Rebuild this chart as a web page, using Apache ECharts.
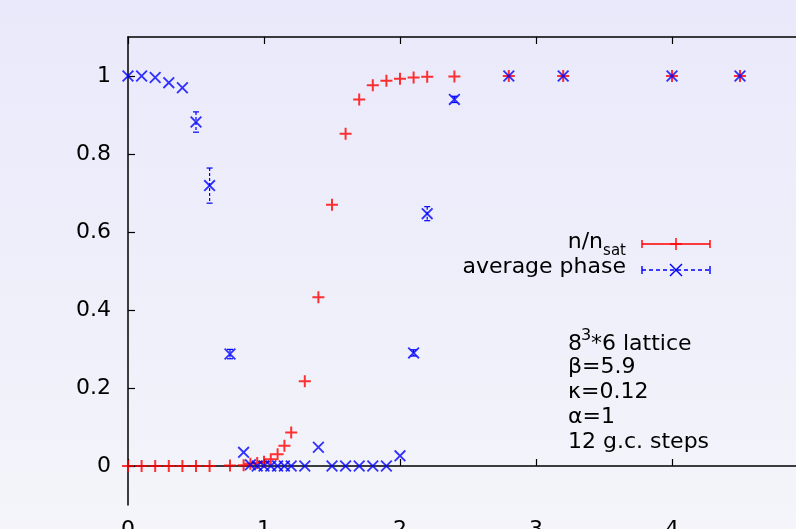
<!DOCTYPE html>
<html>
<head>
<meta charset="utf-8">
<script src="https://cdn.jsdelivr.net/npm/echarts@6/dist/echarts.min.js"></script>
<style>
  html, body { margin: 0; padding: 0; }
  #chart { width: 796px; height: 529px; }
</style>
</head>
<body>
<div id="chart"></div>
<script>
// values
const xValues = [0, 0.1, 0.2, 0.3, 0.4, 0.5, 0.6, 0.75, 0.85, 0.9, 0.95, 1.0, 1.05, 1.1, 1.15, 1.2,
  1.3, 1.4, 1.5, 1.6, 1.7, 1.8, 1.9, 2.0, 2.1, 2.2, 2.4, 2.8, 3.2, 4.0, 4.5];
const nSat = [0, 0, 0, 0, 0, 0, 0, 0.001, 0.002, 0.006, 0.008, 0.011, 0.017, 0.03, 0.052, 0.086,
  0.217, 0.433, 0.67, 0.852, 0.94, 0.976, 0.988, 0.993, 0.996, 0.998, 0.999, 1, 1, 1, 1];
const avgPhase = [1, 1, 0.996, 0.983, 0.97, 0.882, 0.719, 0.287, 0.035, 0.003, 0, 0, 0, 0, 0, 0,
  0, 0.048, 0, 0, 0, 0, 0, 0.026, 0.29, 0.647, 0.94, 1, 1, 1, 1];
const avgPhaseErr = [0, 0, 0, 0.004, 0.004, 0.026, 0.045, 0.012, 0.004, 0, 0, 0, 0, 0, 0, 0,
  0, 0.004, 0, 0, 0, 0, 0, 0.004, 0.008, 0.018, 0.008, 0, 0, 0, 0];
const yTicks = [0, 0.2, 0.4, 0.6, 0.8, 1];
const infoLines = ['\u03b2=5.9', '\u03ba=0.12', '\u03b1=1', '12 g.c. steps'];

const FONT = 'DejaVu Sans';
const plusPath = 'path://M0,5H12V7H0Z M5,0H7V12H5Z';
const crossPath = 'path://M0,1.3L1.3,0L12,10.7L10.7,12Z M10.7,0L12,1.3L1.3,12L0,10.7Z';

var dom = document.getElementById('chart');
var myChart = echarts.init(dom, null, { renderer: 'canvas' });

function errBar(params, api) {
  var x = api.value(0), y = api.value(1), e = api.value(2);
  if (!(e > 0.005)) return null;
  var top = api.coord([x, y + e]);
  var bot = api.coord([x, y - e]);
  var blue = '#0000ff';
  return {
    type: 'group',
    children: [
      { type: 'line', shape: { x1: top[0], y1: top[1], x2: bot[0], y2: bot[1] },
        style: { stroke: blue, lineWidth: 1.2, lineDash: [3, 2] } },
      { type: 'line', shape: { x1: top[0] - 3, y1: top[1], x2: top[0] + 3, y2: top[1] },
        style: { stroke: blue, lineWidth: 1.2 } },
      { type: 'line', shape: { x1: bot[0] - 3, y1: bot[1], x2: bot[0] + 3, y2: bot[1] },
        style: { stroke: blue, lineWidth: 1.2 } }
    ]
  };
}

function txt(text, x, y, size, align) {
  return {
    type: 'text', x: x, y: y, silent: true,
    style: { text: text, fill: '#000', font: size + 'px "' + FONT + '"',
      align: align || 'left', verticalAlign: 'middle' }
  };
}
function seg(x1, y1, x2, y2, color, dash) {
  return {
    type: 'line', silent: true, shape: { x1: x1, y1: y1, x2: x2, y2: y2 },
    style: { stroke: color, lineWidth: 1.4, lineDash: dash || null }
  };
}

var graphics = [
  // legend
  txt('n/n', 603, 242.4, 22, 'right'),
  txt('sat', 626, 251.3, 15, 'right'),
  txt('average phase', 626, 267.4, 22, 'right'),
  seg(642, 244, 710, 244, '#ff0000'),
  seg(642, 240, 642, 248, '#ff0000'),
  seg(710, 240, 710, 248, '#ff0000'),
  seg(670, 244, 682, 244, '#ff0000'),
  seg(676, 238, 676, 250, '#ff0000'),
  seg(642, 270, 710, 270, '#0000ff', [4, 3]),
  seg(642, 266, 642, 274, '#0000ff'),
  seg(710, 266, 710, 274, '#0000ff'),
  seg(670, 264, 682, 276, '#0000ff'),
  seg(670, 276, 682, 264, '#0000ff'),
  // info block
  txt('8', 568, 344.4, 22),
  txt('3', 581, 336, 16),
  txt('*6 lattice', 591, 344.4, 22)
];
infoLines.forEach(function (s, i) {
  graphics.push(txt(s, 568, 367.4 + i * 25, 22));
});

var option = {
  animation: false,
  backgroundColor: {
    type: 'linear', x: 0, y: 0, x2: 0, y2: 1,
    colorStops: [{ offset: 0, color: '#e9e9fb' }, { offset: 1, color: '#f4f4fa' }]
  },
  textStyle: { fontFamily: FONT },
  grid: { left: 128, top: 37, right: -12, bottom: 24, outerBoundsMode: 'none', show: false },
  xAxis: [
    {
      type: 'value', position: 'bottom', min: 0, max: 5, interval: 1,
      axisLine: { lineStyle: { color: '#000', width: 1.5 } },
      axisTick: { inside: true, length: 7, lineStyle: { color: '#000', width: 1.2 } },
      axisLabel: { color: '#000', fontSize: 22, fontFamily: FONT, margin: 14 },
      splitLine: { show: false }
    },
    {
      type: 'value', position: 'top', min: 0, max: 5, interval: 1,
      axisLine: { lineStyle: { color: '#000', width: 1.5 } },
      axisTick: { inside: true, length: 7, lineStyle: { color: '#000', width: 1.2 } },
      axisLabel: { show: false },
      splitLine: { show: false }
    }
  ],
  yAxis: {
    type: 'value', min: -0.1, max: 1.1,
    axisLine: { show: true, lineStyle: { color: '#000', width: 1.5 } },
    axisTick: { show: true, inside: true, length: 7, customValues: yTicks,
      lineStyle: { color: '#000', width: 1.2 } },
    axisLabel: { color: '#000', fontSize: 22, fontFamily: FONT, margin: 17, customValues: yTicks },
    splitLine: { show: false }
  },
  series: [
    {
      name: 'n/n_sat', type: 'scatter', symbol: plusPath, symbolSize: 12,
      itemStyle: { color: '#ff0000' },
      data: xValues.map(function (x, i) { return [x, nSat[i]]; })
    },
    {
      name: 'err', type: 'custom', renderItem: errBar, silent: true,
      data: xValues.map(function (x, i) { return [x, avgPhase[i], avgPhaseErr[i]]; })
    },
    {
      name: 'average phase', type: 'scatter', symbol: crossPath, symbolSize: 12,
      itemStyle: { color: '#0000ff' },
      data: xValues.map(function (x, i) { return [x, avgPhase[i]]; })
    }
  ],
  graphic: graphics
};

myChart.setOption(option);
window.addEventListener('resize', myChart.resize);
</script>
</body>
</html>
